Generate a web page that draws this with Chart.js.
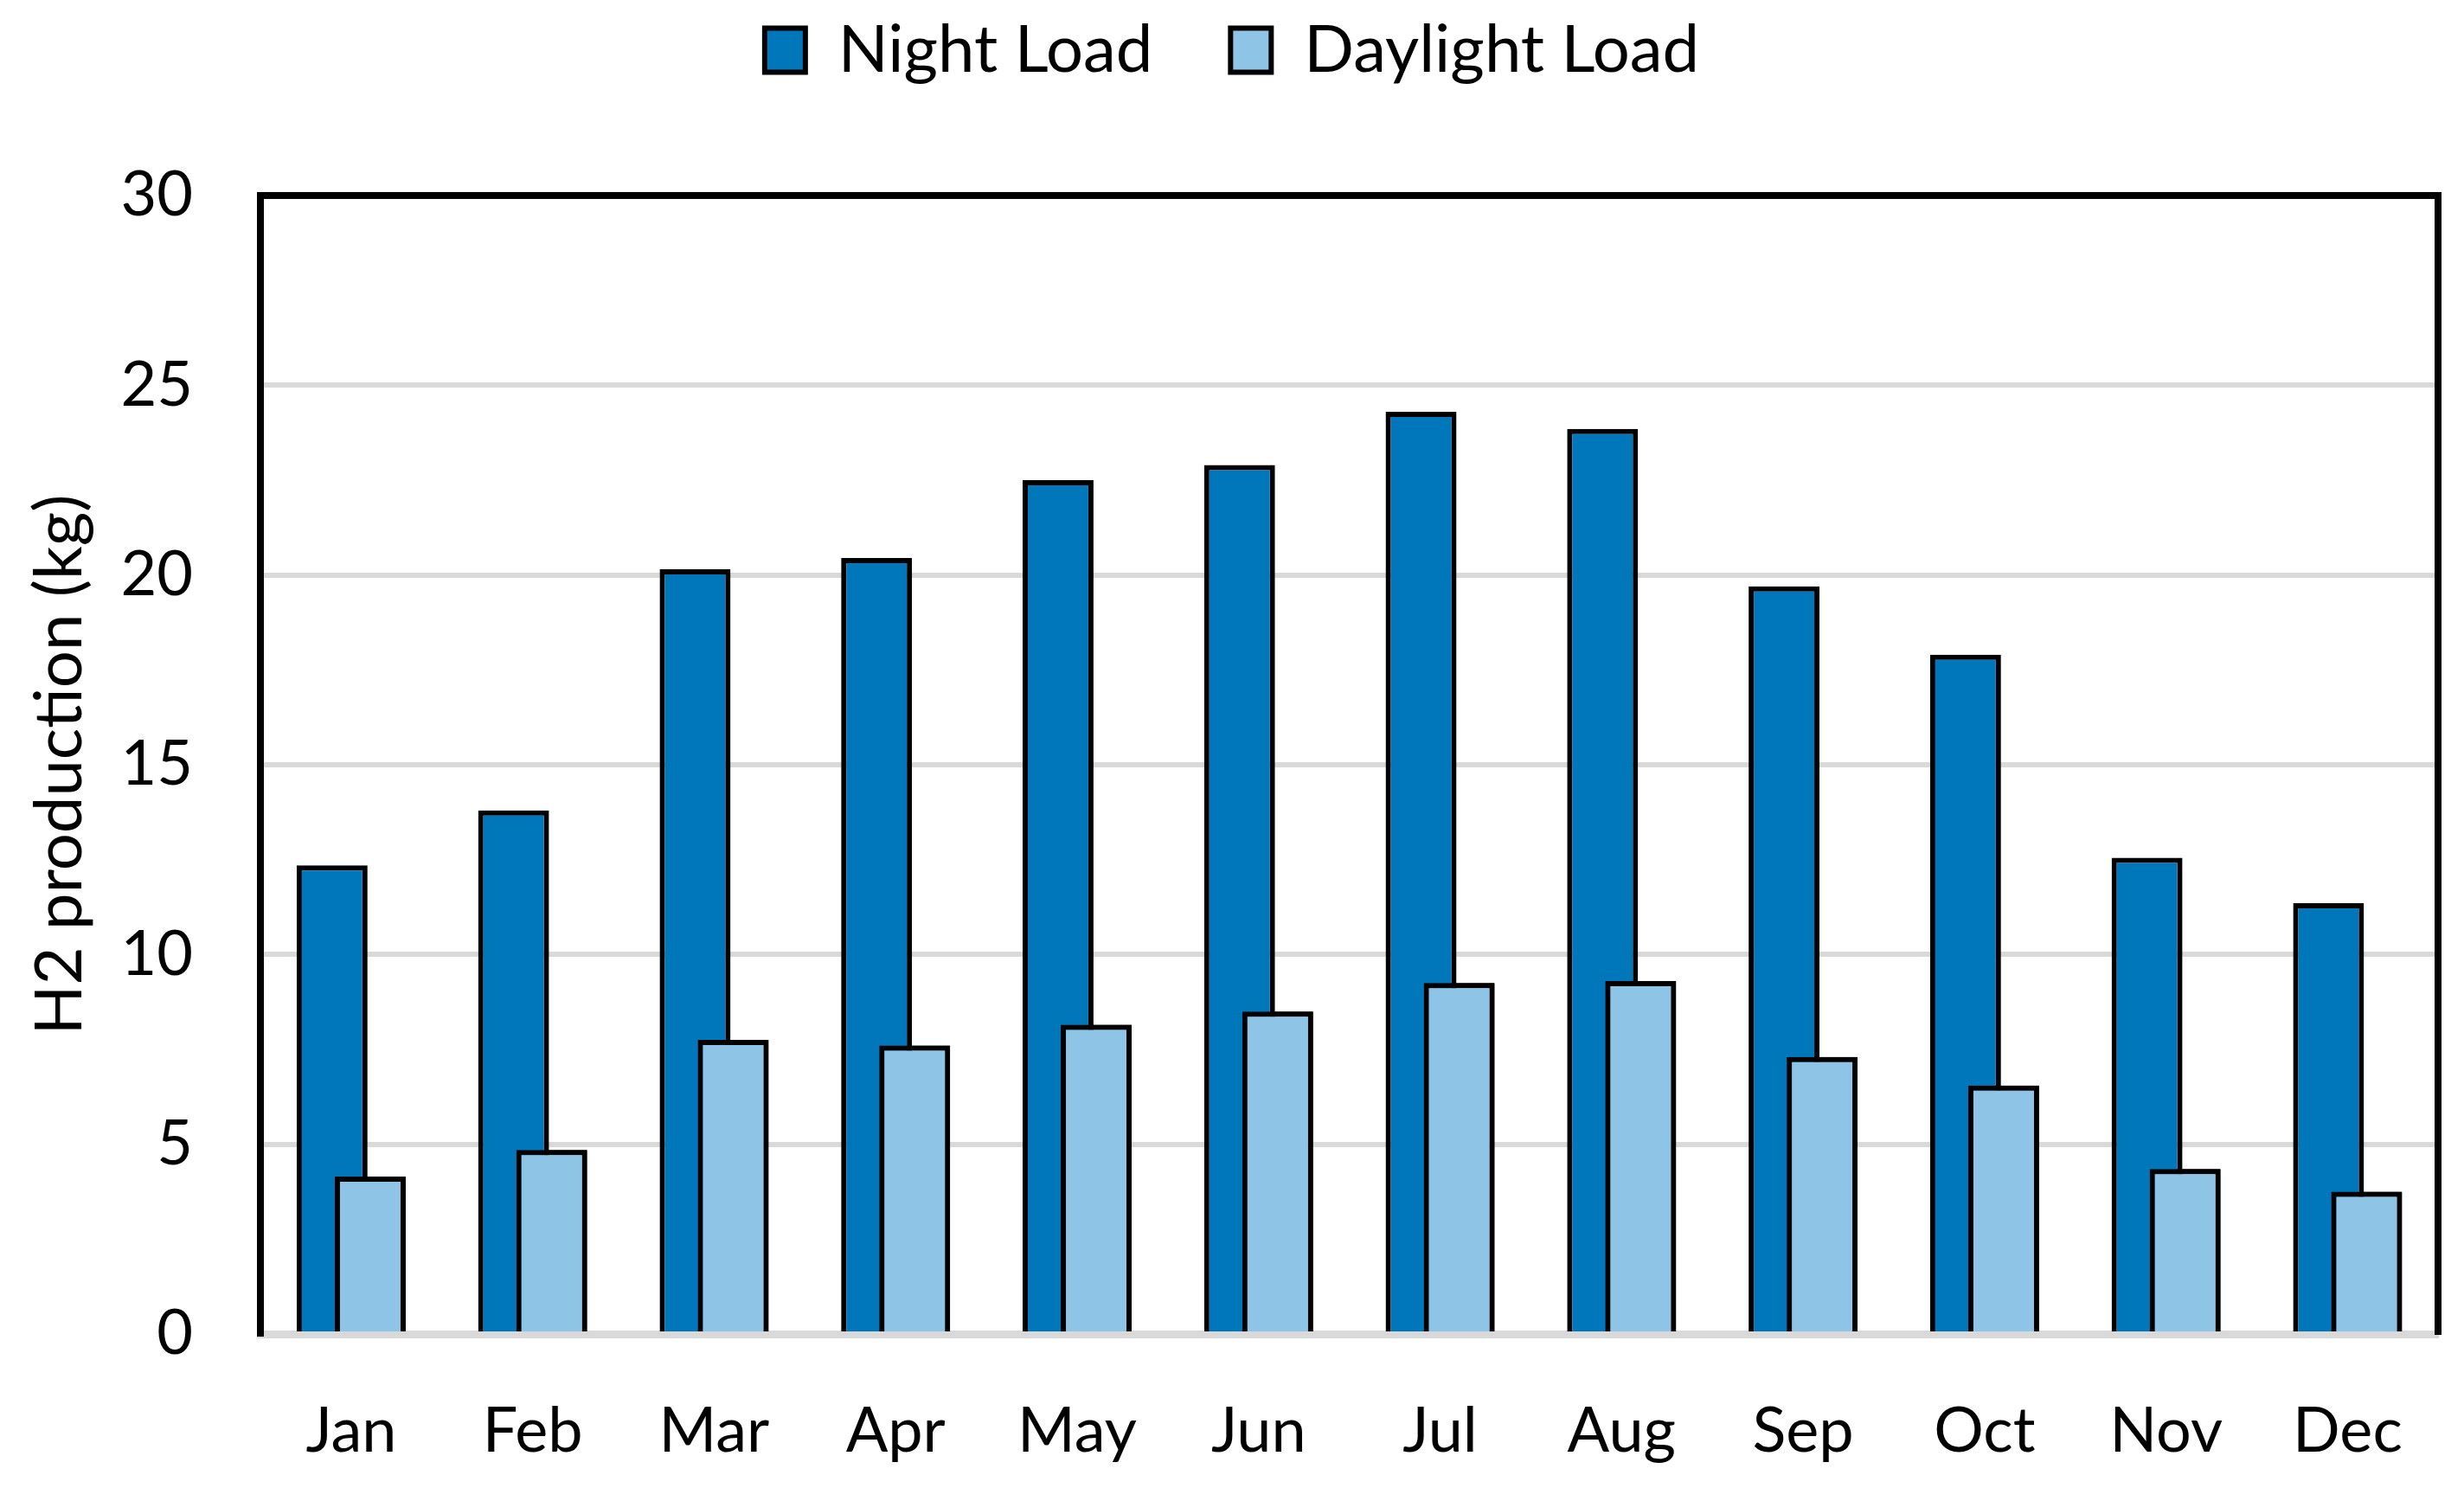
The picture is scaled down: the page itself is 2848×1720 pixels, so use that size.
<!DOCTYPE html>
<html>
<head>
<meta charset="utf-8">
<script src="https://cdn.jsdelivr.net/npm/chart.js@4.4.1/dist/chart.umd.min.js"></script>
<style>
  html, body { margin: 0; padding: 0; background: #fff; }
  canvas { display: block; }
</style>
</head>
<body>
<canvas id="h2Chart" width="2848" height="1720" style="width:2848px;height:1720px"></canvas>
<script>
// monthly H2 production (kg)
const months = ['Jan', 'Feb', 'Mar', 'Apr', 'May', 'Jun', 'Jul', 'Aug', 'Sep', 'Oct', 'Nov', 'Dec'];
const nightLoad = [12.35, 13.8, 20.15, 20.45, 22.5, 22.9, 24.3, 23.85, 19.7, 17.9, 12.55, 11.35];
const daylightLoad = [4.15, 4.85, 7.75, 7.6, 8.15, 8.5, 9.25, 9.3, 7.3, 6.55, 4.35, 3.75];
const yTicks = [0, 5, 10, 15, 20, 25, 30];

const FONT = 'Lato, "Open Sans", sans-serif';

const frame = { color: '#000000', width: 8 };

// chart.js paints the first dataset last, redraw the daylight bars so they sit on top
const daylightOnTop = {
    id: 'daylightOnTop',
    afterDatasetsDraw(chart) {
        chart.getDatasetMeta(1).controller.draw();
    }
};

const h2Chart = new Chart(document.getElementById('h2Chart'), {
    type: 'bar',
    data: {
        labels: months,
        datasets: [
            {
                label: 'Night Load',
                data: nightLoad,
                backgroundColor: '#0076BB',
                borderColor: '#000000',
                borderWidth: 6,
                borderSkipped: 'start'
            },
            {
                label: 'Daylight Load',
                data: daylightLoad,
                backgroundColor: '#8EC4E6',
                borderColor: '#000000',
                borderWidth: 6,
                borderSkipped: 'start'
            }
        ]
    },
    plugins: [daylightOnTop],
    options: {
        responsive: false,
        animation: false,
        devicePixelRatio: 1,
        // overlapping bars like the excel original
        categoryPercentage: 0.42,
        barPercentage: 1.86,
        layout: {
            padding: { top: -70, left: 0, right: 0, bottom: 0 }
        },
        plugins: {
            tooltip: { enabled: false },
            legend: {
                position: 'top',
                align: 'center',
                labels: {
                    color: '#000000',
                    font: { family: FONT, size: 76 },
                    boxWidth: 47,
                    boxHeight: 51,
                    padding: 90
                }
            }
        },
        scales: {
            x: {
                type: 'category',
                position: 'bottom',
                grid: { display: false, drawTicks: false },
                border: { color: '#D9D9D9', width: 9 },
                ticks: {
                    color: '#000000',
                    font: { family: FONT, size: 72 },
                    padding: 70,
                    maxRotation: 0
                },
                afterFit: (s) => { s.height = 178; }
            },
            xTop: {
                type: 'category',
                position: 'top',
                labels: months,
                grid: { display: false, drawTicks: false },
                border: frame,
                ticks: { display: false },
                afterFit: (s) => { s.height = 120; }
            },
            y: {
                min: 0,
                max: 30,
                position: 'left',
                afterBuildTicks: (s) => { s.ticks = yTicks.map(v => ({ value: v })); },
                grid: { color: '#D9D9D9', lineWidth: 6, drawTicks: false },
                border: frame,
                ticks: {
                    color: '#000000',
                    font: { family: FONT, size: 72 },
                    padding: 78
                },
                title: {
                    display: true,
                    text: 'H2 production (kg)',
                    color: '#000000',
                    font: { family: FONT, size: 76 },
                    padding: { top: 24, bottom: 0 }
                },
                afterFit: (s) => { s.width = 301; }
            },
            yRight: {
                position: 'right',
                min: 0,
                max: 30,
                grid: { display: false, drawTicks: false },
                border: frame,
                ticks: { display: false },
                afterFit: (s) => { s.width = 29; }
            }
        }
    }
});
</script>
</body>
</html>
